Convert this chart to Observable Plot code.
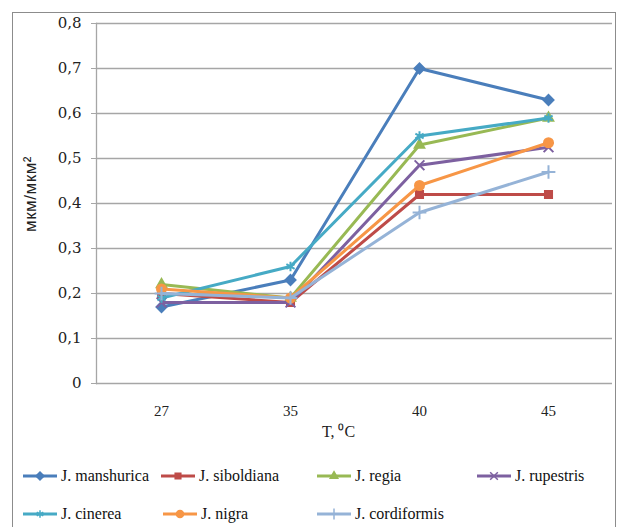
<!DOCTYPE html>
<html><head><meta charset="utf-8">
<script src="https://cdn.jsdelivr.net/npm/d3@7"></script>
<script src="https://cdn.jsdelivr.net/npm/@observablehq/plot@0.6"></script>
<style>
body{margin:0;background:#fff;}
#wrap{position:relative;width:620px;height:527px;overflow:hidden;background:#fff;}
#frame{position:absolute;left:12px;top:12px;width:602px;height:540px;border:1px solid #8c8c8c;}
#chart{position:absolute;left:0;top:0;}
#ylab{position:absolute;left:31px;top:194px;transform:translate(-50%,-50%) rotate(-90deg);font-family:"Liberation Sans",Arial,sans-serif;font-size:17px;letter-spacing:0.5px;white-space:nowrap;color:#222;}
.leg{position:absolute;font-family:"Liberation Serif";font-size:16px;display:flex;align-items:center;color:#111;white-space:nowrap;}
.leg svg{margin-right:3px;}
</style></head>
<body><div id="wrap"><div id="frame"></div><div id="chart"></div><div id="ylab">мкм/мкм²</div><div id="legend"></div></div>
<script>
const temps = ["27", "35", "40", "45"];
const species = ["J. manshurica", "J. siboldiana", "J. regia", "J. rupestris", "J. cinerea", "J. nigra", "J. cordiformis"];
const colors = ["#4a7ebb", "#be4b48", "#98b954", "#7d60a0", "#46aac5", "#f79646", "#95b3d7"];
const symbols = ["diamond2", "square2", "triangle2", "times", "asterisk", "circle", "plus"];
const yTicks = [0, 0.1, 0.2, 0.3, 0.4, 0.5, 0.6, 0.7, 0.8];

const manshurica  = [0.17, 0.23, 0.70, 0.63];
const siboldiana  = [0.20, 0.18, 0.42, 0.42];
const regia       = [0.22, 0.19, 0.53, 0.59];
const rupestris   = [0.18, 0.18, 0.485, 0.525];
const cinerea     = [0.19, 0.26, 0.55, 0.59];
const nigra       = [0.21, 0.19, 0.44, 0.535];
const cordiformis = [0.20, 0.19, 0.38, 0.47];

const seriesValues = [manshurica, siboldiana, regia, rupestris, cinerea, nigra, cordiformis];
const rows = species.flatMap((s, i) => temps.map((t, j) => ({s, t, v: seriesValues[i][j]})));

const serif = "DejaVu Serif";
const grid = "#a6a6a6";
const marks = [
  Plot.gridY(yTicks.filter(d => d > 0), {stroke: grid, strokeOpacity: 1, strokeWidth: 1.3}),
  Plot.ruleY([0], {stroke: grid, strokeWidth: 1.3}),
  Plot.frame({anchor: "left", stroke: grid, strokeWidth: 1.3}),
  Plot.axisY({ticks: yTicks, tickSize: 5, tickPadding: 10, stroke: grid, fontFamily: serif,
    tickFormat: d => d === 0 ? "0" : d.toFixed(1).replace(".", ","), label: null}),
  Plot.axisX({tickSize: 0, tickPadding: 22, label: null}),
  Plot.text(["T, \u2070C"], {frameAnchor: "bottom", dy: 53, dx: -16, text: d => d, fontSize: 16})
];
species.forEach((s, i) => {
  const d = rows.filter(r => r.s === s);
  marks.push(Plot.line(d, {x: "t", y: "v", stroke: colors[i], strokeWidth: 3}));
  marks.push(Plot.dot(d, {x: "t", y: "v", symbol: () => symbols[i], fill: colors[i], stroke: colors[i], strokeWidth: 2, r: 4.5}));
});

const chart = Plot.plot({
  width: 620, height: 450,
  marginTop: 23, marginBottom: 67, marginLeft: 96, marginRight: 8,
  style: {background: "transparent", fontFamily: "Liberation Serif", fontSize: "15px", color: "#222"},
  x: {type: "point", domain: temps, padding: 0.5},
  y: {domain: [0, 0.8]},
  symbol: {type: "identity"},
  marks
});
document.getElementById("chart").appendChild(chart);

// legend
const legendPos = [[22, 476], [160, 476], [316, 476], [476, 476], [22, 514], [162, 514], [316, 514]];
const leg = document.getElementById("legend");
const symMap = {diamond2: d3.symbolDiamond2, square2: d3.symbolSquare2, triangle2: d3.symbolTriangle2,
  times: d3.symbolTimes, asterisk: d3.symbolAsterisk, circle: d3.symbolCircle, plus: d3.symbolPlus};
species.forEach((s, i) => {
  const div = document.createElement("div");
  div.className = "leg";
  div.style.left = legendPos[i][0] + "px";
  div.style.top = (legendPos[i][1] - 10) + "px";
  const svg = d3.create("svg").attr("width", 36).attr("height", 20);
  svg.append("line").attr("x1", 1).attr("x2", 35).attr("y1", 10).attr("y2", 10)
    .attr("stroke", colors[i]).attr("stroke-width", 3);
  svg.append("path").attr("transform", "translate(18,10)")
    .attr("d", d3.symbol(symMap[symbols[i]], 40)())
    .attr("fill", colors[i]).attr("stroke", colors[i]).attr("stroke-width", 1.5);
  div.appendChild(svg.node());
  const span = document.createElement("span");
  span.textContent = s;
  div.appendChild(span);
  leg.appendChild(div);
});
</script>
</body></html>
